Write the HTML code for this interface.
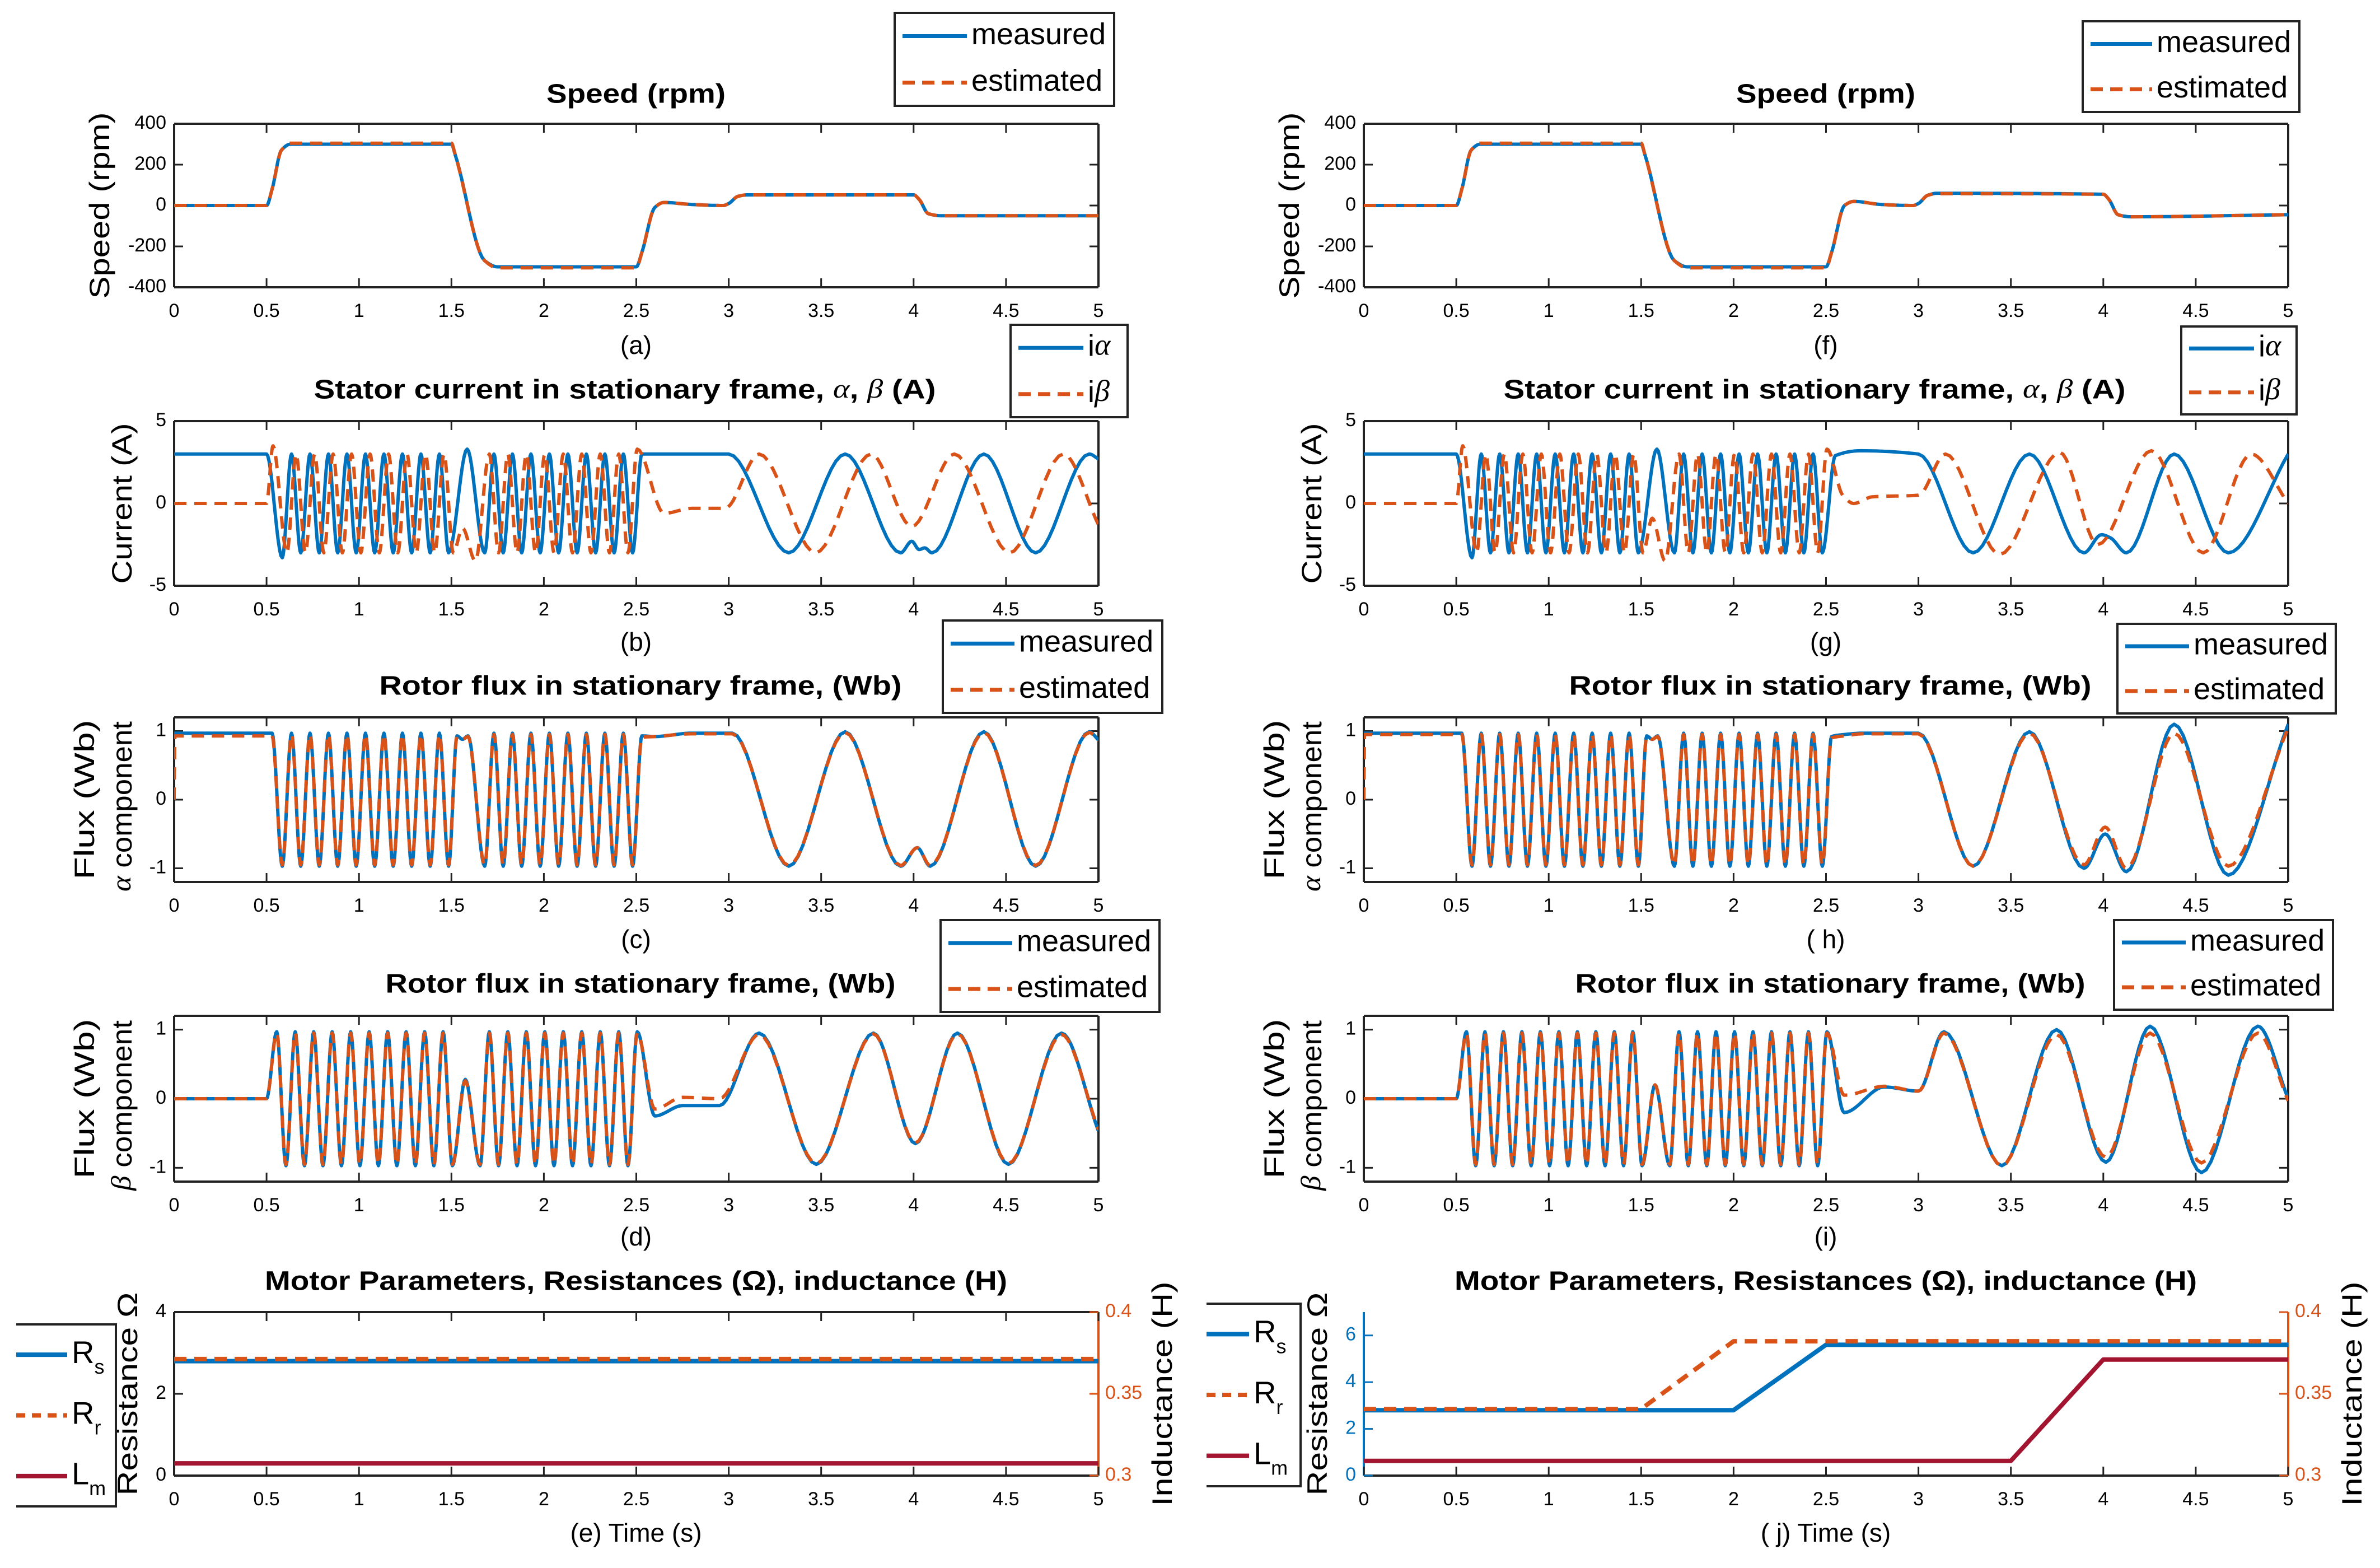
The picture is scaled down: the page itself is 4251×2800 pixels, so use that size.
<!DOCTYPE html>
<html><head><meta charset="utf-8"><style>
html,body{margin:0;padding:0;background:#fff;}
svg{display:block;}
text{font-family:"Liberation Sans",Arial,sans-serif;}
</style></head><body>
<svg id="fig" xmlns="http://www.w3.org/2000/svg" width="4251" height="2800" viewBox="0 0 4251 2800"></svg>
<script>
// ---------------- DATA ----------------
const xTicks = [0,0.5,1,1.5,2,2.5,3,3.5,4,4.5,5];
const xTickLabels = ["0","0.5","1","1.5","2","2.5","3","3.5","4","4.5","5"];
const speedTicks = [-400,-200,0,200,400];
const currentTicks = [-5,0,5];
const fluxTicks = [-1,0,1];
const resTicksL = [0,2,4];
const resTicksR = [0,2,4,6];
const indTicks = [0.3,0.35,0.4];
const indTickLabels = ["0.3","0.35","0.4"];

// speed (rpm)
const tSpeedL = [0,0.5,0.53,0.58,0.63,1.5,1.52,1.68,1.75,2.5,2.53,2.6,2.65,2.8,2.97,3.0,3.05,3.1,4.0,4.03,4.08,4.15,5.0];
const speedMeasL = [0,0,80,270,300,300,250,-270,-300,-300,-230,-10,15,5,0,10,45,52,52,30,-40,-50,-50];
const speedEstL = [0,0,80,270,305,305,250,-270,-305,-305,-230,-10,15,5,0,10,45,52,52,30,-40,-50,-50];
const tSpeedR = [0,0.5,0.53,0.58,0.63,1.5,1.52,1.68,1.75,2.5,2.53,2.6,2.65,2.8,2.97,3.0,3.05,3.1,4.0,4.03,4.08,4.15,5.0];
const speedMeasR = [0,0,80,270,300,300,250,-270,-300,-300,-230,0,20,5,0,10,50,60,55,30,-45,-55,-45];
const speedEstR = [0,0,80,270,305,305,250,-270,-305,-305,-230,0,20,5,0,10,50,58,55,30,-45,-55,-45];

// stator current alpha
const tIaL = [0,0.5,0.585,0.635,0.685,0.735,0.785,0.835,0.885,0.935,0.985,1.035,1.085,1.135,1.185,1.235,1.285,1.335,1.385,1.435,1.485,1.585,1.68,1.73,1.78,1.83,1.88,1.93,1.98,2.03,2.08,2.13,2.18,2.23,2.28,2.33,2.38,2.43,2.48,2.53,3.0,3.325,3.63,3.93,3.99,4.03,4.06,4.1,4.38,4.66,4.95,5.0];
const iaMeasL = [3,3,-3.3,3,-3,3,-3,3,-3,3,-3,3,-3,3,-3,3,-3,3,-3,3,-3,3.3,-3,3,-3,3,-3,3,-3,3,-3,3,-3,3,-3,3,-3,3,-3,3,3,-3,3,-3,-2.3,-2.8,-2.7,-3,3,-3,3,2.7];
const tIaR = [0,0.5,0.585,0.635,0.685,0.735,0.785,0.835,0.885,0.935,0.985,1.035,1.085,1.135,1.185,1.235,1.285,1.335,1.385,1.435,1.485,1.585,1.68,1.73,1.78,1.83,1.88,1.93,1.98,2.03,2.08,2.13,2.18,2.23,2.28,2.33,2.38,2.43,2.48,2.55,2.69,3.0,3.296,3.6,3.895,3.99,4.04,4.125,4.383,4.676,5.0];
const iaMeasR = [3,3,-3.3,3,-3,3,-3,3,-3,3,-3,3,-3,3,-3,3,-3,3,-3,3,-3,3.3,-3,3,-3,3,-3,3,-3,3,-3,3,-3,3,-3,3,-3,3,-3,2.9,3.2,3.0,-3,3,-3,-1.9,-2.1,-3,3,-3,3.0];
// stator current beta
const tIbL = [0,0.5,0.535,0.61,0.66,0.71,0.76,0.81,0.86,0.91,0.96,1.01,1.06,1.11,1.16,1.21,1.26,1.31,1.36,1.41,1.46,1.51,1.56,1.63,1.705,1.755,1.805,1.855,1.905,1.955,2.005,2.055,2.105,2.155,2.205,2.255,2.305,2.355,2.405,2.455,2.505,2.65,2.8,2.98,3.164,3.47,3.77,3.99,4.22,4.52,4.81,5.0];
const ibMeasL = [0,0,3.5,-3,3,-3,3,-3,3,-3,3,-3,3,-3,3,-3,3,-3,3,-3,3,-3,-1.5,-3.5,3,-3,3,-3,3,-3,3,-3,3,-3,3,-3,3,-3,3,-3,3.3,-0.6,-0.3,-0.3,3,-3,3,-1.4,3,-3,3,-1.3];
const tIbR = [0,0.5,0.535,0.61,0.66,0.71,0.76,0.81,0.86,0.91,0.96,1.01,1.06,1.11,1.16,1.21,1.26,1.31,1.36,1.41,1.46,1.51,1.56,1.63,1.705,1.755,1.805,1.855,1.905,1.955,2.005,2.055,2.105,2.155,2.205,2.255,2.305,2.355,2.405,2.455,2.505,2.59,2.65,2.75,3.0,3.146,3.44,3.765,3.97,4.26,4.54,4.8,5.0];
const ibMeasR = [0,0,3.5,-3,3,-3,3,-3,3,-3,3,-3,3,-3,3,-3,3,-3,3,-3,3,-3,-0.9,-3.5,3,-3,3,-3,3,-3,3,-3,3,-3,3,-3,3,-3,3,-3,3.3,0.5,0.0,0.4,0.5,3.0,-3.1,3.1,-2.5,3.2,-3.0,3.0,0.0];

// rotor flux alpha
const tAlphaL = [0,0.004,0.53,0.585,0.635,0.685,0.735,0.785,0.835,0.885,0.935,0.985,1.035,1.085,1.135,1.185,1.235,1.285,1.335,1.385,1.435,1.485,1.53,1.56,1.59,1.68,1.73,1.78,1.83,1.88,1.93,1.98,2.03,2.08,2.13,2.18,2.23,2.28,2.33,2.38,2.43,2.48,2.53,2.6,2.8,3.02,3.325,3.63,3.93,4.02,4.09,4.38,4.66,4.95,5.0];
const alphaMeasL = [0.97,0.97,0.97,-0.97,0.97,-0.97,0.97,-0.97,0.97,-0.97,0.97,-0.97,0.97,-0.97,0.97,-0.97,0.97,-0.97,0.97,-0.97,0.97,-0.97,0.93,0.88,0.93,-0.97,0.97,-0.97,0.97,-0.97,0.97,-0.97,0.97,-0.97,0.97,-0.97,0.97,-0.97,0.97,-0.97,0.97,-0.97,0.93,0.92,0.97,0.97,-0.97,0.99,-0.97,-0.7,-0.97,0.99,-0.97,0.99,0.87];
const alphaEstL = [0,0.93,0.93,-0.95,0.95,-0.95,0.95,-0.95,0.95,-0.95,0.95,-0.95,0.95,-0.95,0.95,-0.95,0.95,-0.95,0.95,-0.95,0.95,-0.95,0.92,0.88,0.92,-0.95,0.95,-0.95,0.95,-0.95,0.95,-0.95,0.95,-0.95,0.95,-0.95,0.95,-0.95,0.95,-0.95,0.95,-0.95,0.91,0.92,0.96,0.96,-0.96,0.98,-0.96,-0.7,-0.96,0.98,-0.96,0.98,0.86];
const tAlphaR = [0,0.004,0.53,0.585,0.635,0.685,0.735,0.785,0.835,0.885,0.935,0.985,1.035,1.085,1.135,1.185,1.235,1.285,1.335,1.385,1.435,1.485,1.53,1.56,1.59,1.68,1.73,1.78,1.83,1.88,1.93,1.98,2.03,2.08,2.13,2.18,2.23,2.28,2.33,2.38,2.43,2.48,2.53,2.6,2.7,3.0,3.296,3.6,3.895,4.01,4.125,4.383,4.676,5.0];
const alphaMeasR = [0.97,0.97,0.97,-0.97,0.97,-0.97,0.97,-0.97,0.97,-0.97,0.97,-0.97,0.97,-0.97,0.97,-0.97,0.97,-0.97,0.97,-0.97,0.97,-0.97,0.93,0.88,0.93,-0.97,0.97,-0.97,0.97,-0.97,0.97,-0.97,0.97,-0.97,0.97,-0.97,0.97,-0.97,0.97,-0.97,0.97,-0.97,0.92,0.95,0.97,0.97,-0.97,0.99,-1.0,-0.5,-1.05,1.1,-1.1,1.1];
const alphaEstR = [0,0.95,0.95,-0.95,0.95,-0.95,0.95,-0.95,0.95,-0.95,0.95,-0.95,0.95,-0.95,0.95,-0.95,0.95,-0.95,0.95,-0.95,0.95,-0.95,0.92,0.88,0.92,-0.95,0.95,-0.95,0.95,-0.95,0.95,-0.95,0.95,-0.95,0.95,-0.95,0.95,-0.95,0.95,-0.95,0.95,-0.95,0.9,0.93,0.96,0.96,-0.97,0.97,-0.95,-0.4,-1.0,0.97,-0.97,1.05];

// rotor flux beta
const tBetaL = [0,0.5,0.555,0.605,0.655,0.705,0.755,0.805,0.855,0.905,0.955,1.005,1.055,1.105,1.155,1.205,1.255,1.305,1.355,1.405,1.455,1.505,1.575,1.655,1.705,1.755,1.805,1.855,1.905,1.955,2.005,2.055,2.105,2.155,2.205,2.255,2.305,2.355,2.405,2.455,2.505,2.6,2.75,2.95,3.164,3.474,3.783,4.01,4.237,4.513,4.8,5.0];
const betaMeasL = [0,0,0.97,-0.97,0.97,-0.97,0.97,-0.97,0.97,-0.97,0.97,-0.97,0.97,-0.97,0.97,-0.97,0.97,-0.97,0.97,-0.97,0.97,-0.97,0.28,-0.97,0.97,-0.97,0.97,-0.97,0.97,-0.97,0.97,-0.97,0.97,-0.97,0.97,-0.97,0.97,-0.97,0.97,-0.97,0.97,-0.25,-0.1,-0.1,0.95,-0.95,0.95,-0.65,0.95,-0.95,0.95,-0.47];
const betaEstL = [0,0,0.95,-0.95,0.95,-0.95,0.95,-0.95,0.95,-0.95,0.95,-0.95,0.95,-0.95,0.95,-0.95,0.95,-0.95,0.95,-0.95,0.95,-0.95,0.26,-0.95,0.95,-0.95,0.95,-0.95,0.95,-0.95,0.95,-0.95,0.95,-0.95,0.95,-0.95,0.95,-0.95,0.95,-0.95,0.95,-0.15,0.02,0.0,0.93,-0.94,0.94,-0.64,0.94,-0.94,0.93,-0.45];
const tBetaR = [0,0.5,0.555,0.605,0.655,0.705,0.755,0.805,0.855,0.905,0.955,1.005,1.055,1.105,1.155,1.205,1.255,1.305,1.355,1.405,1.455,1.505,1.575,1.655,1.705,1.755,1.805,1.855,1.905,1.955,2.005,2.055,2.105,2.155,2.205,2.255,2.305,2.355,2.405,2.455,2.505,2.598,2.815,3.0,3.138,3.451,3.747,4.014,4.253,4.531,4.836,5.0];
const betaMeasR = [0,0,0.97,-0.97,0.97,-0.97,0.97,-0.97,0.97,-0.97,0.97,-0.97,0.97,-0.97,0.97,-0.97,0.97,-0.97,0.97,-0.97,0.97,-0.97,0.2,-0.97,0.97,-0.97,0.97,-0.97,0.97,-0.97,0.97,-0.97,0.97,-0.97,0.97,-0.97,0.97,-0.97,0.97,-0.97,0.97,-0.2,0.17,0.11,0.97,-0.97,1.0,-0.92,1.05,-1.07,1.05,0.0];
const betaEstR = [0,0,0.95,-0.95,0.95,-0.95,0.95,-0.95,0.95,-0.95,0.95,-0.95,0.95,-0.95,0.95,-0.95,0.95,-0.95,0.95,-0.95,0.95,-0.95,0.2,-0.95,0.95,-0.95,0.95,-0.95,0.95,-0.95,0.95,-0.95,0.95,-0.95,0.95,-0.95,0.95,-0.95,0.95,-0.95,0.95,0.05,0.18,0.11,0.95,-0.97,0.93,-0.85,0.95,-0.93,0.95,-0.03];

// motor parameters
const tRsL = [0,5], rsL = [2.8,2.8];
const tRrL = [0,5], rrL = [2.85,2.85];
const tLmL = [0,5], lmL = [0.3075,0.3075];
const tRsR = [0,2,2.5,5], rsR = [2.8,2.8,5.6,5.6];
const tRrR = [0,1.5,2,5], rrR = [2.85,2.85,5.75,5.75];
const tLmR = [0,3.5,4,5], lmR = [0.309,0.309,0.371,0.371];

// ---------------- DRAWING ----------------
const NS = "http://www.w3.org/2000/svg";
const svg = document.getElementById('fig');
const BLUE="#0072BD", ORANGE="#D95319", RED="#A2142F";
const PX0=311, PX1=1962;
const ROWS={a:[221,513],b:[752,1046],c:[1281,1575],d:[1814,2110],e:[2343,2635]};
function mk(tag, attrs, parent){const e=document.createElementNS(NS,tag);for(const k in attrs)e.setAttribute(k,attrs[k]);(parent||svg).appendChild(e);return e;}
function xScale(off){return t=>off+PX0+(t/5)*(PX1-PX0);}
function yScale(row,lo,hi){const r=ROWS[row];return v=>r[1]-(v-lo)/(hi-lo)*(r[1]-r[0]);}

function monoPath(ts,vs,fx,fy){
  const n=ts.length,h=[],d=[],m=[];
  for(let i=0;i<n-1;i++){h[i]=ts[i+1]-ts[i];d[i]=(vs[i+1]-vs[i])/h[i];}
  m[0]=d[0];m[n-1]=d[n-2];
  for(let i=1;i<n-1;i++){
    if(d[i-1]*d[i]<=0)m[i]=0;
    else m[i]=3*(h[i-1]+h[i])/((2*h[i]+h[i-1])/d[i-1]+(h[i]+2*h[i-1])/d[i]);
  }
  let p="M"+fx(ts[0]).toFixed(1)+","+fy(vs[0]).toFixed(1);
  for(let i=0;i<n-1;i++){
    const N=12;
    for(let k=1;k<=N;k++){
      const s=k/N,s2=s*s,s3=s2*s;
      const v=(2*s3-3*s2+1)*vs[i]+(s3-2*s2+s)*h[i]*m[i]+(-2*s3+3*s2)*vs[i+1]+(s3-s2)*h[i]*m[i+1];
      p+="L"+fx(ts[i]+s*h[i]).toFixed(1)+","+fy(v).toFixed(1);
    }
  }
  return p;
}
function linPath(ts,vs,fx,fy){return ts.map((t,i)=>(i?"L":"M")+fx(t).toFixed(1)+","+fy(vs[i]).toFixed(1)).join("");}

let clipId=0;
function makeClip(off,row){
  const r=ROWS[row];const id="clip"+(clipId++);
  const cp=mk('clipPath',{id:id});
  mk('rect',{x:off+PX0,y:r[0]-4,width:PX1-PX0,height:r[1]-r[0]+8},cp);
  return id;
}
function series(off,row,lo,hi,ts,vs,color,dashed,name,clip,linear,width){
  const fx=xScale(off),fy=yScale(row,lo,hi);
  const d=linear?linPath(ts,vs,fx,fy):monoPath(ts,vs,fx,fy);
  const p=mk('path',{d:d,fill:"none",stroke:color,"stroke-width":width||6,"stroke-linejoin":"round","clip-path":"url(#"+clip+")"});
  if(dashed)p.setAttribute('stroke-dasharray',"22,14");
  
  
}
function text(x,y,str,size,opts){
  const t=mk('text',{x:x,y:y,"font-size":size,"text-anchor":(opts&&opts.anchor)||"middle","dominant-baseline":"middle",fill:(opts&&opts.fill)||"#000"});
  if(opts&&opts.weight)t.setAttribute('font-weight',opts.weight);
  if(opts&&opts.len){t.setAttribute('textLength',opts.len);t.setAttribute('lengthAdjust','spacingAndGlyphs');}
  if(opts&&opts.rot)t.setAttribute('transform','rotate(-90 '+x+' '+y+')');
  t.innerHTML=str;
  return t;
}
function axes(off,row,lo,hi,yt,ytl,opts){
  opts=opts||{};
  const r=ROWS[row],x0=off+PX0,x1=off+PX1,fx=xScale(off),fy=yScale(row,lo,hi);
  const g=mk('g',{});
  
  
  const lc=opts.leftColor||"#222";
  if(!opts.noTop) mk('line',{x1:x0,y1:r[0],x2:x1,y2:r[0],stroke:"#222","stroke-width":4},g);
  mk('line',{x1:x0,y1:r[1],x2:x1,y2:r[1],stroke:"#222","stroke-width":4},g);
  mk('line',{x1:x0,y1:r[0],x2:x0,y2:r[1],stroke:lc,"stroke-width":4},g);
  mk('line',{x1:x1,y1:r[0],x2:x1,y2:r[1],stroke:opts.rightColor||"#222","stroke-width":4},g);
  xTicks.forEach((t,i)=>{
    const x=fx(t);
    mk('line',{x1:x,y1:r[1],x2:x,y2:r[1]-16,stroke:"#222","stroke-width":3},g);
    if(!opts.noTop) mk('line',{x1:x,y1:r[0],x2:x,y2:r[0]+16,stroke:"#222","stroke-width":3},g);
    const tl=text(x,r[1]+44,xTickLabels[i],34);
    
    
  });
  yt.forEach((v,i)=>{
    const y=fy(v);
    mk('line',{x1:x0,y1:y,x2:x0+16,y2:y,stroke:lc,"stroke-width":3},g);
    if(!opts.rightTicks) mk('line',{x1:x1,y1:y,x2:x1-16,y2:y,stroke:"#222","stroke-width":3},g);
    const tl=text(x0-14,y,ytl[i],34,{anchor:"end",fill:opts.leftColor||"#000"});
    
    
  });
  if(opts.rightTicks){
    const fy2=yScale(row,opts.rlo,opts.rhi);
    opts.rightTicks.forEach((v,i)=>{
      const y=fy2(v);
      mk('line',{x1:x1,y1:y,x2:x1-16,y2:y,stroke:ORANGE,"stroke-width":3},g);
      const tl=text(x1+12,y,opts.rightLabels[i],34,{anchor:"start",fill:ORANGE});
      
      
    });
  }
}
function legend(x0,y0,x1,y1,entries,name,lineEnd,openLeft){
  const g=mk('g',{});
  
  
  if(openLeft){
    mk('path',{d:"M"+x0+","+y0+"H"+x1+"V"+y1+"H"+x0,fill:"#fff",stroke:"#222","stroke-width":4},g);
  } else {
    mk('rect',{x:x0,y:y0,width:x1-x0,height:y1-y0,fill:"#fff",stroke:"#222","stroke-width":4},g);
  }
  const n=entries.length;
  entries.forEach((e,i)=>{
    const y=y0+(y1-y0)*(i+0.5)/n;
    const ln=mk('line',{x1:x0+(openLeft?0:14),y1:y,x2:lineEnd,y2:y,stroke:e.color,"stroke-width":e.w||7},g);
    if(e.dash)ln.setAttribute('stroke-dasharray',e.dash);
    const t=text(lineEnd+8,y,e.label,e.size||54,{anchor:"start"});
    g.appendChild(t);
  });
}

// ---------------- PANELS ----------------
function panel(off,side){
  const L=side==="L";
  const cap=L?["(a)","(b)","(c)","(d)","(e) Time (s)"]:["(f)","(g)","( h)","(i)","( j) Time (s)"];
  const cx=off+1136;
  // (a) speed
  let c=makeClip(off,'a');
  axes(off,'a',-400,400,speedTicks,speedTicks.map(String));
  series(off,'a',-400,400,L?tSpeedL:tSpeedR,L?speedMeasL:speedMeasR,BLUE,false,'speed-measured-line',c);
  series(off,'a',-400,400,L?tSpeedL:tSpeedR,L?speedEstL:speedEstR,ORANGE,true,'speed-estimated-line',c);
  let t=text(cx,171,"Speed (rpm)",48,{weight:"bold",len:320});
  
  
  t=text(off+182,367,"Speed (rpm)",50,{rot:true,len:333});
  
  
  t=text(cx,620,cap[0],46);
  
  
  legend(off+(L?1598:1595),L?23:38,off+(L?1990:1982),L?189:200,[{label:"measured",color:BLUE},{label:"estimated",color:ORANGE,dash:"22,13"}],'speed-legend',off+(L?1727:1719));

  // (b) current
  c=makeClip(off,'b');
  axes(off,'b',-5,5,currentTicks,currentTicks.map(String));
  series(off,'b',-5,5,L?tIaL:tIaR,L?iaMeasL:iaMeasR,BLUE,false,'i-alpha-line',c);
  series(off,'b',-5,5,L?tIbL:tIbR,L?ibMeasL:ibMeasR,ORANGE,true,'i-beta-line',c);
  t=text(cx-20,699,'Stator current in stationary frame, <tspan font-family="Liberation Serif" font-style="italic" font-weight="normal">α</tspan>, <tspan font-family="Liberation Serif" font-style="italic" font-weight="normal">β</tspan>  (A)',48,{weight:"bold",len:1111});
  
  
  t=text(off+222,899,"Current (A)",50,{rot:true,len:287});
  
  
  t=text(cx,1150,cap[1],46);
  
  
  legend(off+(L?1805:1771),L?580:583,off+(L?2014:1977),L?745:740,[{label:'i<tspan font-family="Liberation Serif" font-style="italic">α</tspan>',color:BLUE},{label:'i<tspan font-family="Liberation Serif" font-style="italic">β</tspan>',color:ORANGE,dash:"22,13"}],'current-legend',off+(L?1935:1901));

  // (c) flux alpha
  c=makeClip(off,'c');
  axes(off,'c',-1.2,1.2,fluxTicks,fluxTicks.map(String));
  series(off,'c',-1.2,1.2,L?tAlphaL:tAlphaR,L?alphaMeasL:alphaMeasR,BLUE,false,'flux-alpha-measured-line',c);
  series(off,'c',-1.2,1.2,L?tAlphaL:tAlphaR,L?alphaEstL:alphaEstR,ORANGE,true,'flux-alpha-estimated-line',c);
  t=text(cx+8,1228,"Rotor flux in stationary frame,  (Wb)",48,{weight:"bold",len:933});
  
  
  t=text(off+155,1428,"Flux (Wb)",50,{rot:true,len:285});
  
  
  t=text(off+222,1440,'<tspan font-family="Liberation Serif" font-style="italic">α</tspan> component',50,{rot:true,len:304});
  
  
  t=text(cx,1681,cap[2],46);
  
  
  legend(off+(L?1684:1657),L?1108:1114,off+(L?2076:2047),L?1273:1274,[{label:"measured",color:BLUE},{label:"estimated",color:ORANGE,dash:"22,13"}],'flux-alpha-legend',off+(L?1812:1785));

  // (d) flux beta
  c=makeClip(off,'d');
  axes(off,'d',-1.2,1.2,fluxTicks,fluxTicks.map(String));
  series(off,'d',-1.2,1.2,L?tBetaL:tBetaR,L?betaMeasL:betaMeasR,BLUE,false,'flux-beta-measured-line',c);
  series(off,'d',-1.2,1.2,L?tBetaL:tBetaR,L?betaEstL:betaEstR,ORANGE,true,'flux-beta-estimated-line',c);
  t=text(cx+8,1760,"Rotor flux in stationary frame, (Wb)",48,{weight:"bold",len:911});
  
  
  t=text(off+155,1962,"Flux (Wb)",50,{rot:true,len:285});
  
  
  t=text(off+222,1974,'<tspan font-family="Liberation Serif" font-style="italic">β</tspan> component',50,{rot:true,len:304});
  
  
  t=text(cx,2212,cap[3],46);
  
  
  legend(off+(L?1680:1651),L?1643:1643,off+(L?2071:2042),L?1807:1803,[{label:"measured",color:BLUE},{label:"estimated",color:ORANGE,dash:"22,13"}],'flux-beta-legend',off+(L?1808:1779));

  // (e) parameters
  c=makeClip(off,'e');
  const rhi=L?4:7;
  if(L){
    axes(off,'e',0,4,resTicksL,resTicksL.map(String),{rightTicks:indTicks,rightLabels:indTickLabels,rlo:0.3,rhi:0.4,rightColor:ORANGE});
  } else {
    axes(off,'e',0,7,resTicksR,resTicksR.map(String),{rightTicks:indTicks,rightLabels:indTickLabels,rlo:0.3,rhi:0.4,rightColor:ORANGE,leftColor:BLUE,noTop:true});
  }
  series(off,'e',0,rhi,L?tRsL:tRsR,L?rsL:rsR,BLUE,false,'rs-line',c,true,8);
  series(off,'e',0,rhi,L?tRrL:tRrR,L?rrL:rrR,ORANGE,true,'rr-line',c,true,8);
  series(off,'e',0.3,0.4,L?tLmL:tLmR,L?lmL:lmR,RED,false,'lm-line',c,true,8);
  t=text(cx,2291,"Motor Parameters, Resistances (Ω), inductance (H)",48,{weight:"bold",len:1326});
  
  
  t=text(off+232,2489,"Resistance Ω",50,{rot:true,len:363});
  
  
  t=text(off+2080,2489,"Inductance (H)",50,{rot:true,len:401});
  
  
  t=text(cx,2741,cap[4],46);
  
  
  const sub=(s)=>'<tspan font-size="36" dy="24">'+s+'</tspan>';
  legend(off+(L?29:30),L?2365:2328,off+(L?207:198),L?2690:2654,
    [{label:'R'+sub('s'),color:BLUE,w:8,size:56},{label:'R'+sub('r'),color:ORANGE,dash:"16,12",w:8,size:56},{label:'L'+sub('m'),color:RED,w:8,size:56}],
    'parameters-legend',off+(L?120:106),true);
}
panel(0,"L");
panel(2125,"R");
</script>
</body></html>
